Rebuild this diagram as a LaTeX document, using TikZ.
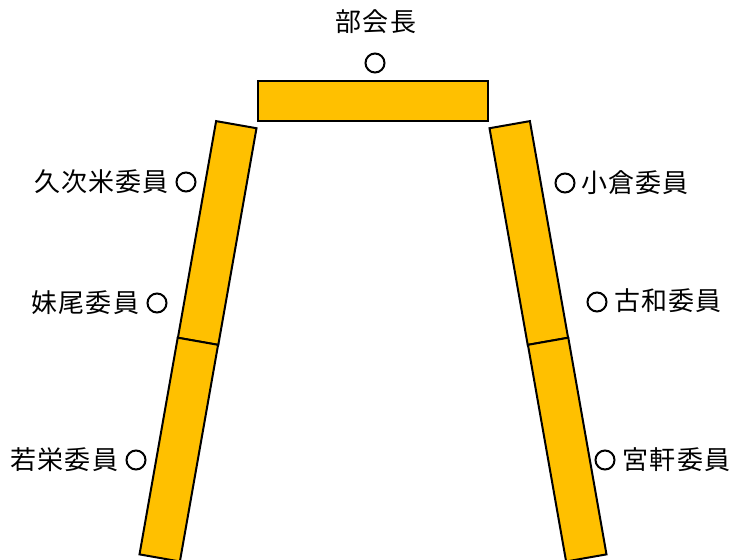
\documentclass[tikz,border=0pt]{standalone}
\usepackage{fontspec}
\setmainfont{Noto Sans CJK JP}
\definecolor{gold}{HTML}{FFC000}
\begin{document}
\begin{tikzpicture}[x=1pt,y=-1pt,
  tablebox/.style={draw=black,line width=2pt,fill=gold,rectangle,inner sep=0pt,
    minimum width=41pt,minimum height=220pt},
  seat/.style={draw=black,line width=2pt,circle,inner sep=0pt,minimum size=19pt},
  lbl/.style={anchor=base,inner sep=0pt,font=\fontsize{26}{30}\selectfont\addfontfeature{LetterSpace=4}}]
\useasboundingbox (0,0) rectangle (735,559);
\begin{scope}
\clip (0,0) rectangle (735,559);
\node[tablebox,minimum width=230pt,minimum height=40pt] (top) at (373,101) {};
\node[tablebox,rotate=-10] (L1) at (217.2,233) {};
\node[tablebox,rotate=-10] (L2) at (178.8,449.6) {};
\node[tablebox,rotate=10] (R1) at (528.8,233) {};
\node[tablebox,rotate=10] (R2) at (567.2,449.6) {};
\end{scope}
\node[lbl] (chair) at (376,32) {部会長};
\node[seat] (cchair) at (375,63) {};
\node[seat] (c1) at (186,182) {};
\node[seat] (c2) at (157,303) {};
\node[seat] (c3) at (136,460) {};
\node[seat] (c4) at (565,183) {};
\node[seat] (c5) at (597,302) {};
\node[seat] (c6) at (605,460) {};
\node[lbl] (t1) at (101.5,191.5) {久次米委員};
\node[lbl] (t2) at (85.5,312.5) {妹尾委員};
\node[lbl] (t3) at (64.5,469.5) {若栄委員};
\node[lbl] (t4) at (635,192.5) {小倉委員};
\node[lbl] (t5) at (668,310.5) {古和委員};
\node[lbl] (t6) at (676.5,469.5) {宮軒委員};
\end{tikzpicture}
\end{document}
